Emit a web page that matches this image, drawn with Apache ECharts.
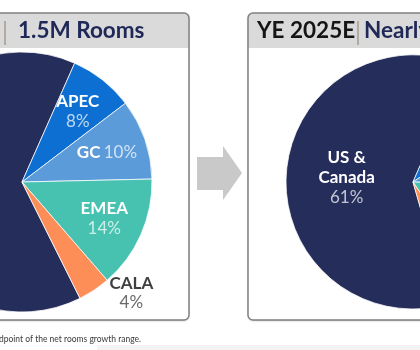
<!DOCTYPE html>
<html><head><meta charset="utf-8">
<script src="https://cdn.jsdelivr.net/npm/echarts@6/dist/echarts.min.js"></script>
<style>html,body{margin:0;padding:0;background:#fff}#c{width:420px;height:350px}</style>
</head><body><div id="c"></div>
<script>
// ---- data ----
const regions = ['US & Canada', 'APEC', 'GC', 'EMEA', 'CALA'];
const labelLines = ['US &\nCanada', 'APEC', 'GC', 'EMEA', 'CALA'];
const shares2024 = [64, 8, 10, 14, 4];
const shares2025 = [61, 9, 10, 15, 5];
const header2024 = ['YE 2024', '1.5M Rooms'];
const header2025 = ['YE 2025E', 'Nearly 1.6M Rooms'];
const footnote = 'Note: YE 2025E reflects the midpoint of the net rooms growth range.';
const singleLineLabels = ['GC'];
const outsideLabels = ['CALA'];

// ---- style ----
const colors = ['#252d5b', '#0d6fd1', '#5c9bd9', '#47c2b1', '#fd8e58'];
const FONT = 'Lato';

function fmt(p) {
  const idx = regions.indexOf(p.name);
  const name = labelLines[idx];
  if (outsideLabels.includes(p.name)) return '{n2|' + name + '}\n{p2|' + p.value + '%}';
  if (singleLineLabels.includes(p.name)) return '{n|' + name + '} {p|' + p.value + '%}';
  return name.split('\n').map(s => '{n|' + s + '}').join('\n') + '\n{p|' + p.value + '%}';
}
const rich = {
  n: { color: '#ffffff', fontWeight: 'bold', fontSize: 17, fontFamily: FONT, lineHeight: 20 },
  p: { color: 'rgba(255,255,255,0.72)', fontSize: 17, fontFamily: FONT, lineHeight: 20 },
  n2: { color: '#3f3f3f', fontWeight: 'bold', fontSize: 17, fontFamily: FONT, lineHeight: 19, width: 42, align: 'center' },
  p2: { color: '#6a6a6a', fontSize: 17, fontFamily: FONT, lineHeight: 19, width: 42, align: 'center' }
};

function mainData(vals) {
  return regions.map((r, i) => {
    const o = { name: r, value: vals[i], itemStyle: { color: colors[i] } };
    if (outsideLabels.includes(r)) o.label = { show: true, position: 'outside' };
    return o;
  });
}
function ringData(vals) {
  return regions.map((r, i) => ({
    name: r, value: vals[i],
    label: { show: !outsideLabels.includes(r) }
  }));
}

const sliceBorder = { borderColor: 'rgba(255,255,255,0.75)', borderWidth: 1 };

const chart = echarts.init(document.getElementById('c'), null, { renderer: 'canvas' });

const boxTop = 13, boxBottom = 320, headH = 35;
function box(x1, x2) {
  return [
    { type: 'rect', z: 0, shape: { x: x1, y: boxTop, width: x2 - x1, height: boxBottom - boxTop, r: 5 },
      style: { fill: '#ffffff', shadowBlur: 2, shadowColor: 'rgba(0,0,0,0.25)', shadowOffsetY: 1 } },
    { type: 'rect', z: 1, shape: { x: x1, y: boxTop, width: x2 - x1, height: headH, r: [5, 5, 0, 0] },
      style: { fill: '#dadada' } },
    { type: 'rect', z: 100, shape: { x: x1, y: boxTop, width: x2 - x1, height: boxBottom - boxTop, r: 5 },
      style: { fill: 'none', stroke: '#808080', lineWidth: 1.5 } }
  ];
}

const headY = 31;
const HEAD_SIZE = 22.5;
const graphic = [].concat(
  box(-30, 189),
  box(248, 460),
  [
    // left header
    { type: 'text', z: 101, style: { text: header2024[0], x: -2, y: headY, textAlign: 'right', textVerticalAlign: 'middle',
      fontSize: HEAD_SIZE, fontWeight: 'bold', fontFamily: FONT, fill: '#151515' } },
    { type: 'text', z: 101, style: { text: '|', x: 5, y: headY + 1, textAlign: 'center', textVerticalAlign: 'middle',
      fontSize: 25, fontFamily: FONT, fontWeight: 300, fill: '#8a7a68' } },
    { type: 'text', z: 101, style: { text: header2024[1], x: 18, y: headY, textAlign: 'left', textVerticalAlign: 'middle',
      fontSize: HEAD_SIZE, fontWeight: 'bold', fontFamily: FONT, fill: '#1f2857' } },
    // right header
    { type: 'text', z: 101, style: { text: header2025[0], x: 257, y: headY, textAlign: 'left', textVerticalAlign: 'middle',
      fontSize: HEAD_SIZE, fontWeight: 'bold', fontFamily: FONT, fill: '#151515' } },
    { type: 'text', z: 101, style: { text: '|', x: 358, y: headY + 1, textAlign: 'center', textVerticalAlign: 'middle',
      fontSize: 25, fontFamily: FONT, fontWeight: 300, fill: '#8a7a68' } },
    { type: 'text', z: 101, style: { text: header2025[1], x: 364, y: headY, textAlign: 'left', textVerticalAlign: 'middle',
      fontSize: HEAD_SIZE, fontWeight: 'bold', fontFamily: FONT, fill: '#1f2857' } },
    // arrow
    { type: 'polygon', z: 5, shape: { points: [[197, 157], [223, 157], [223, 146], [242, 173], [223, 200], [223, 190], [197, 190]] },
      style: { fill: '#c9c9c9' } },
    // footnote
    { type: 'text', z: 5, style: { text: footnote, x: 141, y: 339, textAlign: 'right', textVerticalAlign: 'middle',
      fontSize: 8.5, fontFamily: FONT, fill: '#3a3a3a' } },
    // faint footer band
    { type: 'rect', z: 0, shape: { x: 97, y: 345, width: 330, height: 6 }, style: { fill: '#f3f3f3' } }
  ]
);

chart.setOption({
  animation: false,
  backgroundColor: '#ffffff',
  graphic: graphic,
  series: [
    {
      type: 'pie', z: 10, center: [22, 182], radius: 130, startAngle: 296.5, clockwise: true,
      silent: true, itemStyle: sliceBorder,
      label: { show: false, formatter: fmt, rich: rich, distanceToLabelLine: 4 },
      labelLine: { show: true, length: 4, length2: 10, lineStyle: { color: '#c8c8c8', width: 1.5 } },
      emphasis: { disabled: true },
      data: mainData(shares2024)
    },
    {
      type: 'pie', z: 11, center: [22, 182], radius: [44, 130], startAngle: 296.5, clockwise: true,
      silent: true, itemStyle: { color: 'rgba(0,0,0,0)' },
      label: { show: true, position: 'inside', formatter: fmt, rich: rich },
      labelLine: { show: false }, emphasis: { disabled: true },
      data: ringData(shares2024)
    },
    {
      type: 'pie', z: 10, center: [413, 182], radius: 127, startAngle: 286, clockwise: true,
      silent: true, itemStyle: sliceBorder,
      label: { show: true, position: 'inside', formatter: fmt, rich: rich },
      labelLine: { show: false }, emphasis: { disabled: true },
      data: regions.map((r, i) => ({ name: r, value: shares2025[i], itemStyle: { color: colors[i] } }))
    }
  ]
});
</script></body></html>
